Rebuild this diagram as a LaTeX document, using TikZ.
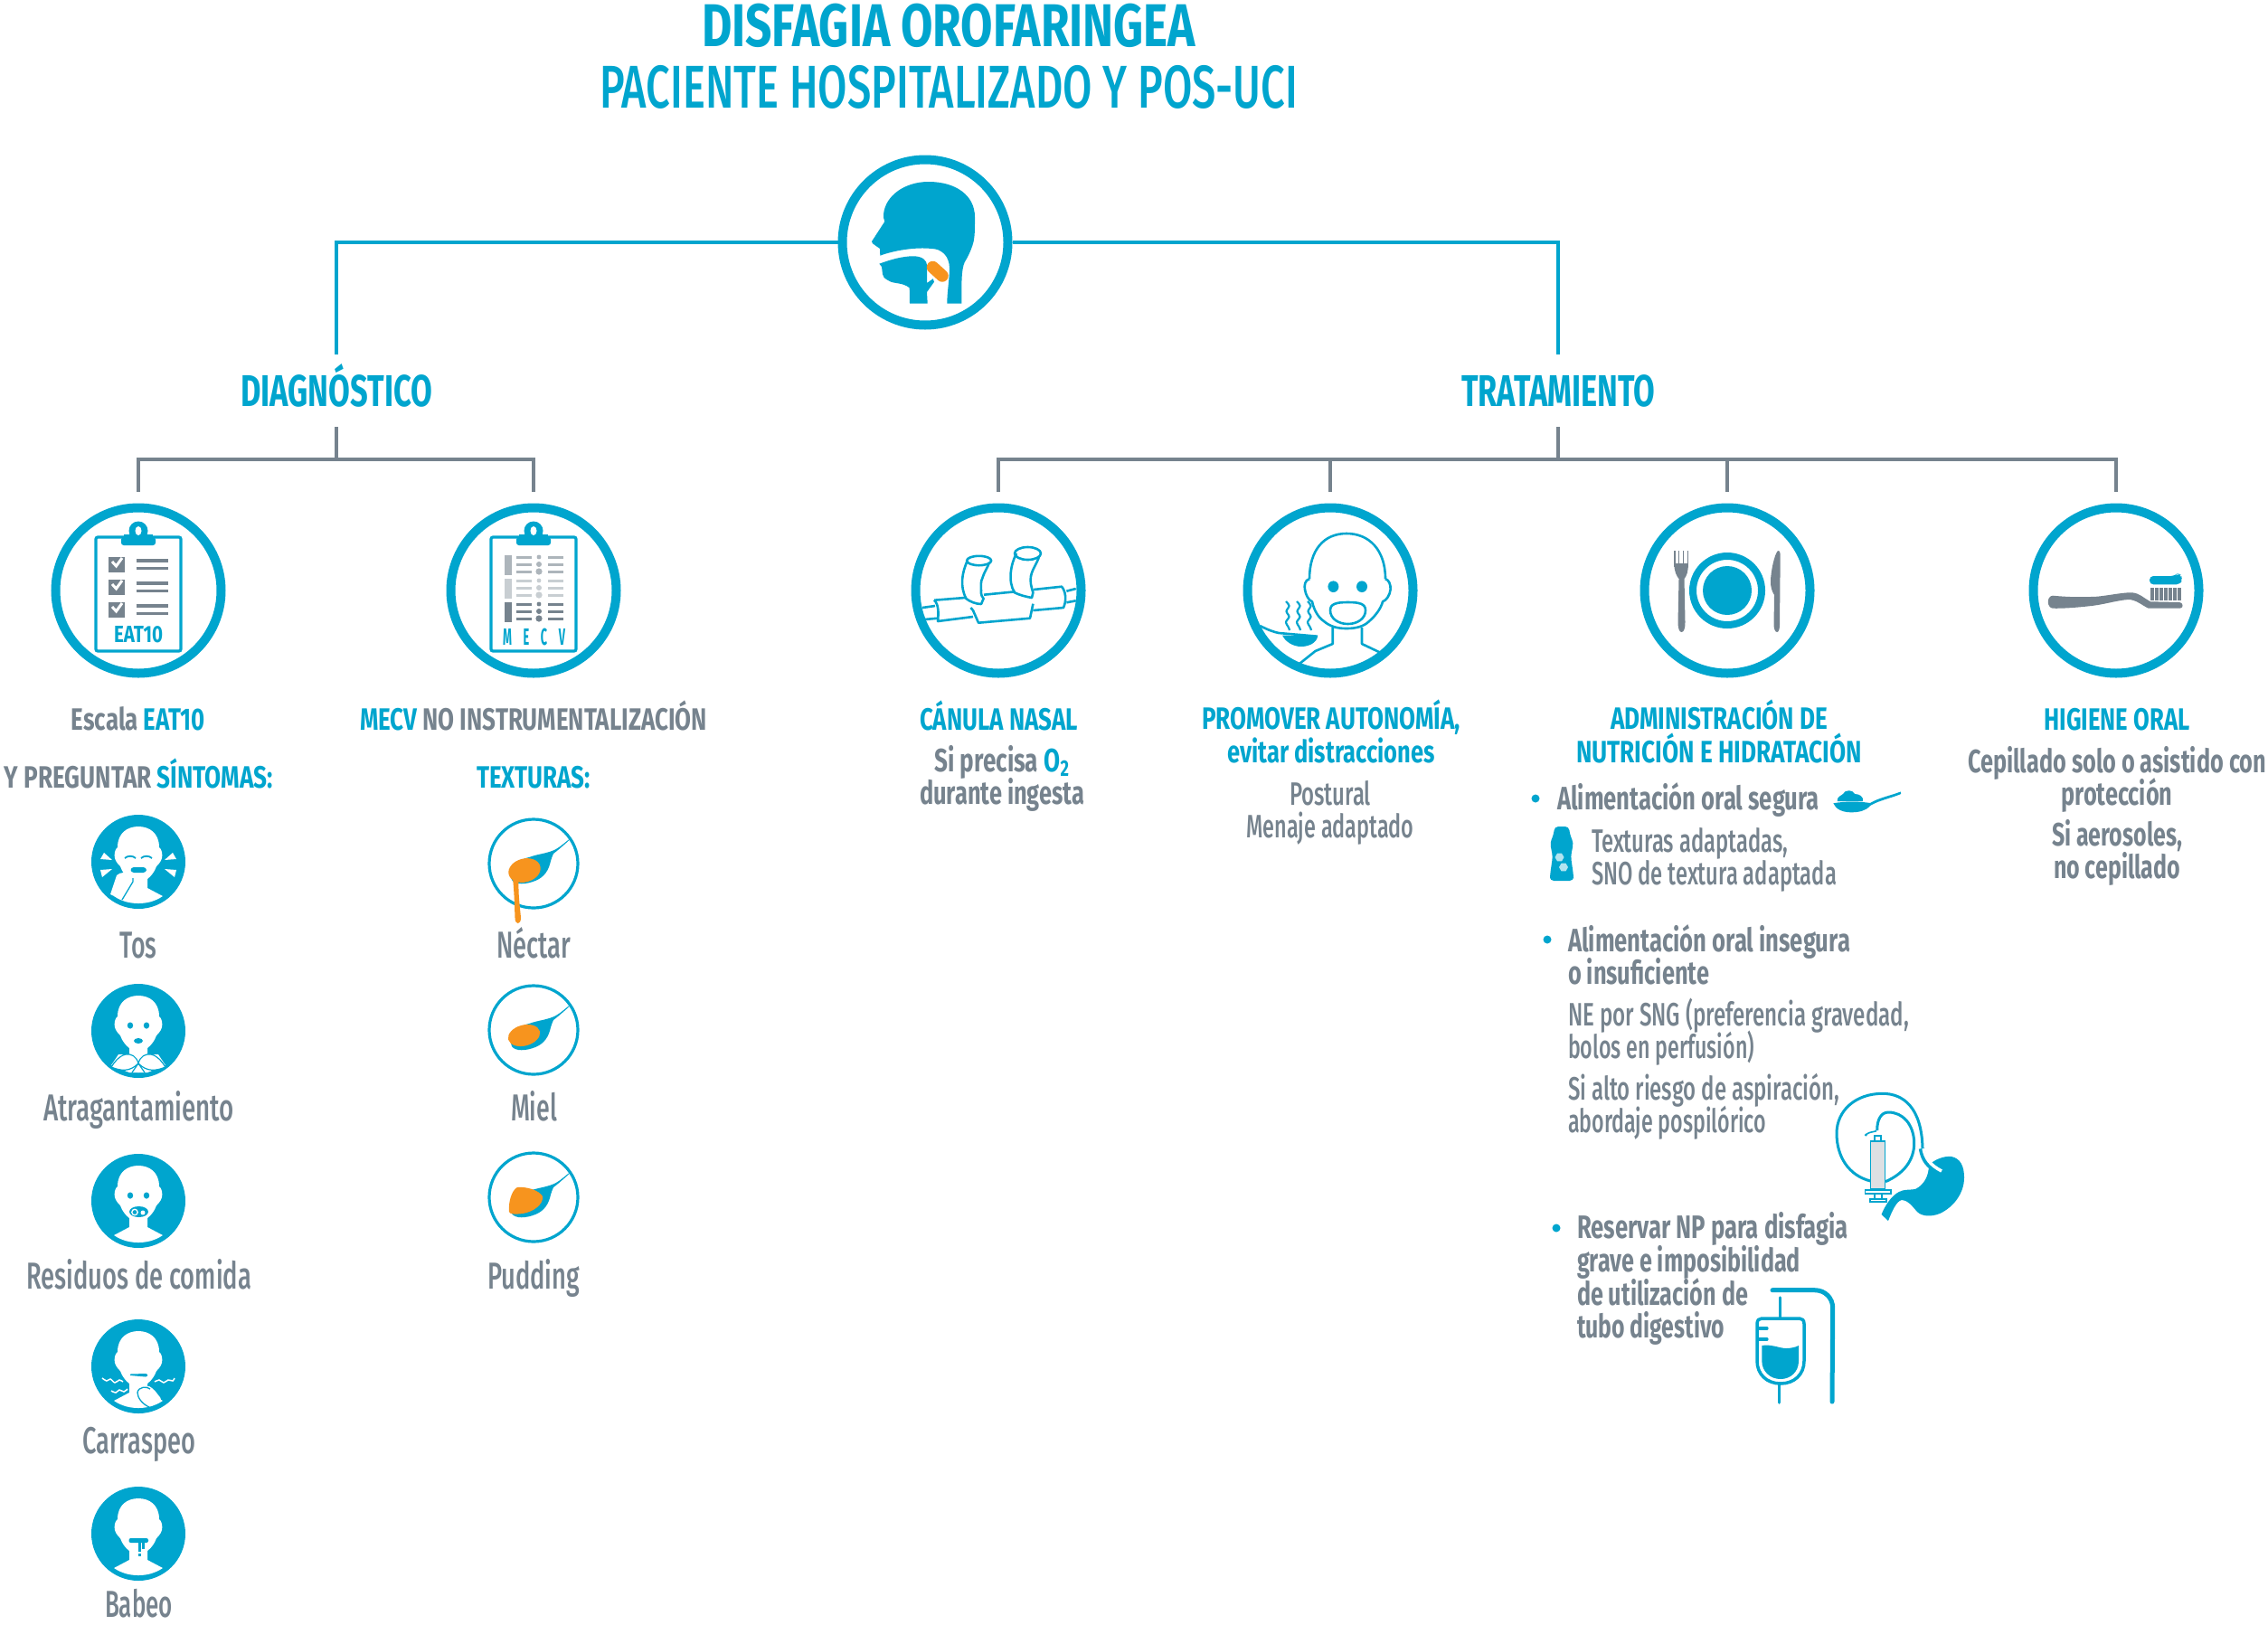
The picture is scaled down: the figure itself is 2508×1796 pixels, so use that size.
\documentclass[tikz,border=0pt]{standalone}
\usepackage{fontspec}
\setmainfont{Fira Sans}
\newfontfamily\medf{Fira Sans Medium}
\definecolor{bl}{HTML}{00A5CE}
\definecolor{gr}{HTML}{76838E}
\definecolor{og}{HTML}{F7941E}
\newsavebox\fwbox
% set a text to a width given in picture pixels
\newcommand\fw[2]{\sbox\fwbox{#2}\pgfmathsetmacro\fwr{#1*0.7113/\the\wd\fwbox}\scalebox{\fwr}[1]{\usebox\fwbox}}
\newcommand\fsz[2]{\fontsize{#1}{#2}\selectfont\lineskiplimit=-100pt\relax}
\newcommand\faceskin{\fill[white] (-23,-16) .. controls (-23,-32) and (-12,-39) .. (0,-39) .. controls (12,-39) and (23,-32) .. (23,-16) .. controls (26,-14) and (27,-8) .. (26,-4) .. controls (25,0) and (22,3) .. (20,5) .. controls (18,11) and (14,16) .. (10,19) -- (10,29) -- (27,38) .. controls (18,44) and (9,46) .. (0,46) .. controls (-9,46) and (-18,44) .. (-27,38) -- (-10,29) -- (-10,19) .. controls (-14,16) and (-18,11) .. (-20,5) .. controls (-22,3) and (-25,0) .. (-26,-4) .. controls (-27,-8) and (-26,-14) .. (-23,-16) -- cycle;}
\newcommand\faceeyes{\fill[bl] (-9,-6) ellipse [x radius=3.2,y radius=3.6]; \fill[bl] (9,-6) ellipse [x radius=3.2,y radius=3.6];}
\newcommand\spoonbowl{\fill[bl] (39.5,-26) .. controls (33,-20) and (26,-14) .. (22,-11) .. controls (20.5,-8) and (20,-6) .. (19,-3) .. controls (17,7) and (12,15) .. (2,19) .. controls (-8,23) and (-20,24) .. (-24,18) .. controls (-28,10) and (-20,-4) .. (-5,-7) .. controls (3,-10) and (12,-11) .. (19,-13.5) .. controls (27,-16) and (33,-22) .. (39.5,-27) -- cycle;}
\newcommand\clipboard{\draw[bl,lw=3.2,rounded corners=1.5] (-47,-59) rectangle (47,67);
  \fill[bl,rounded corners=2] (-19,-59) rectangle (19,-50);
  \fill[bl] (-16,-62) rectangle (16,-55);
  \fill[bl] (0,-66) circle (10.5);
  \fill[white] (0,-66) ellipse [x radius=3.5,y radius=5];}
\newcommand\hexa[2]{\fill[bl!30!white] (#1+5,#2) -- (#1+2.5,#2+4.3) -- (#1-2.5,#2+4.3) -- (#1-5,#2) -- (#1-2.5,#2-4.3) -- (#1+2.5,#2-4.3) -- cycle;}
\tikzset{
  lw/.style={line width=#1*0.25mm},
  bigring/.style={circle,draw=bl,lw=10,minimum size=183*0.25mm,inner sep=0pt,outer sep=17.5*0.25mm},
  disc/.style={circle,fill=bl,minimum size=104*0.25mm,inner sep=0pt},
  thinring/.style={circle,draw=bl,lw=3.2,minimum size=98*0.25mm,inner sep=0pt},
  blueline/.style={draw=bl,lw=3.5},
  greyline/.style={draw=gr,lw=3.5},
  txtbase/.style={inner sep=0pt,outer sep=0pt,anchor=base,text=gr},
  main/.style={txtbase,yshift=-0.4mm,font=\medf\fsz{25.5}{26}},
  bold/.style={txtbase,yshift=-0.4mm,font=\bfseries\fsz{25.5}{26}},
  hd/.style={txtbase,font=\bfseries\fsz{24.3}{26}},
  boldblue/.style={hd,text=bl},
  sympt/.style={main,font=\medf\fsz{29.5}{30}},
  branch/.style={anchor=base,inner sep=0pt,outer sep=0pt,text=bl,font=\bfseries\fsz{35}{36},text height=57*0.25mm,text depth=23*0.25mm},
  ctr/.style={align=center},
  lft/.style={align=left,anchor=base west},
}
\begin{document}
\begin{tikzpicture}[x=0.25mm,y=-0.25mm]
\useasboundingbox (0,0) rectangle (2508,1796);
\fill[white] (0,0) rectangle (2508,1796);
% titles
\node[anchor=base,inner sep=0pt,text=bl,font=\bfseries\fsz{47.5}{48}] (t1) at (1049,51) {\fw{546}{DISFAGIA OROFARINGEA}};
\node[anchor=base,inner sep=0pt,text=bl,font=\medf\fsz{47.5}{48}] (t2) at (1049,119) {\fw{772}{PACIENTE HOSPITALIZADO Y POS-UCI}};
% main nodes
\node[circle,draw=bl,lw=10,minimum size=183*0.25mm,inner sep=0pt] (head) at (1023,268) {};
\node[branch] (diag) at (372,449) {\fw{212}{DIAGNÓSTICO}};
\node[branch] (trat) at (1723,449) {\fw{214}{TRATAMIENTO}};
\node[bigring] (eat) at (153,653) {};
\node[bigring] (mecv) at (590,653) {};
\node[bigring] (can) at (1104,653) {};
\node[bigring] (prom) at (1471,653) {};
\node[bigring] (adm) at (1910,653) {};
\node[bigring] (hig) at (2340,653) {};
\coordinate (dj) at (372,508);
\coordinate (tj) at (1723,508);
% connectors
\draw[blueline] (head.west) -| (diag.north);
\draw[blueline] (head.east) -| (trat.north);
\draw[greyline] (diag.south) -- (dj);
\draw[greyline] (eat.north) |- (dj) -| (mecv.north);
\draw[greyline] (trat.south) -- (tj);
\draw[greyline] (can.north) |- (tj) -| (hig.north);
\draw[greyline] (prom.north) -- (prom.north |- tj);
\draw[greyline] (adm.north) -- (adm.north |- tj);
% head icon
\begin{scope}[shift={(head.center)}]
\fill[bl] (-59,-1) -- (-44.7,-23) .. controls (-46,-26) and (-46,-28) .. (-46,-31) .. controls (-44,-52) and (-22,-67) .. (3.7,-67) .. controls (34,-67) and (55,-52) .. (55,-28) .. controls (55,-15) and (55,-8) .. (53.7,-1.3) .. controls (52,6) and (48,15) .. (43.7,22) .. controls (40,30) and (40.3,45) .. (40.3,67.7) -- (24.3,67.7) .. controls (24.3,55) and (27,40) .. (27,29) .. controls (27,15) and (18,7) .. (7,7) .. controls (-10,5) and (-35,9) .. (-49.7,14.7) -- (-50,7) -- (-58,1.3) -- cycle;
\fill[bl] (-50.7,23.7) .. controls (-38,19) and (-25,15.3) .. (-13,15.3) .. controls (-3,15.3) and (2,20) .. (2,25.3) -- (2,45) -- (8.7,40.3) -- (10,43.7) -- (2,55) -- (2.7,67.7) -- (-17,67.7) -- (-17.3,50.3) .. controls (-25,44) and (-35,46) .. (-39.7,42.7) .. controls (-45,40) and (-47,38) .. (-47,35.3) -- (-48,27) -- cycle;
\draw[og,lw=13.5,line cap=round] (8.5,27.5) -- (19,37);
\end{scope}
% clipboard EAT10
\begin{scope}[shift={(eat.center)}]
\clipboard
\foreach \cy in {-37,-12,13} {
  \fill[gr] (-33,\cy) rectangle (-15,\cy+16.5);
  \draw[white,lw=3] (-29,\cy+5) -- (-24.5,\cy+10) -- (-18,\cy+1);
  \draw[gr,lw=3.2] (-2.5,\cy+4) -- (33,\cy+4);
  \draw[gr,lw=3.2] (-2.5,\cy+12.5) -- (33,\cy+12.5);
}
\node[anchor=base,inner sep=0pt,text=bl,font=\bfseries\fsz{18.5}{19}] (eatlab) at (0,57) {\fw{54}{EAT10}};
\end{scope}
% clipboard MECV
\begin{scope}[shift={(mecv.center)}]
\clipboard
\foreach \ry/\rc in {-39/{gr!60!white},-13/{gr!40!white},13/gr} {
  \fill[\rc] (-32,\ry) rectangle (-23.6,\ry+21.5);
  \foreach \dl in {2,10,18} {
    \draw[\rc,lw=3] (-19.4,\ry+\dl) -- (-2,\ry+\dl);
    \draw[\rc,lw=3] (16,\ry+\dl) -- (33,\ry+\dl);
  }
  \fill[\rc] (6,\ry+2) circle (2.4);
  \fill[\rc] (6,\ry+10) circle (3);
  \fill[\rc] (6,\ry+18) circle (3.6);
}
\node[anchor=base,inner sep=0pt,text=bl,font=\bfseries\fsz{18.5}{19}] (mecvlab) at (0.5,60) {\fw{69}{M\hspace{1em}E\hspace{1em}C\hspace{1em}V}};
\end{scope}
% canula
\begin{scope}[shift={(can.center)},bl,lw=2.6,line join=round]
\draw (-71,10.7) -- (-37,8); \draw (-16,4.7) -- (18.4,1.3); \draw (39,-1) -- (70,-4.3) .. controls (74,0) and (76,10) .. (72,19) -- (38.4,22);
\draw (38.4,14.7) -- (35,30.7) -- (-22,35.7) -- (-28,22) -- (-30.6,19);
\draw (-28,29) -- (-67,34) .. controls (-66,25) and (-66,15) .. (-71,10.7);
\draw (-84,19) -- (-70,17); \draw (-81.5,32) -- (-67,30.7);
\draw (75.4,0.7) -- (85.7,-2); \draw (75.4,13.3) -- (85.7,11.3);
\draw (-21.4,-33) ellipse [x radius=13.5,y radius=5.2];
\draw (-34.4,-32.7) .. controls (-40,-20) and (-43,-5) .. (-35.6,9) .. controls (-32,12) and (-25,15) .. (-19,15) -- (-16.4,9) .. controls (-20,5) and (-19,0) .. (-19,0.7) .. controls (-19.5,-6) and (-19,-12) .. (-18,-12.7) .. controls (-16,-20) and (-12,-25) .. (-10,-31);
\draw (32.5,-41) ellipse [x radius=14.5,y radius=7];
\draw (20,-41) .. controls (14,-30) and (10,-10) .. (18,2.3) .. controls (23,5) and (31,7) .. (37,8) -- (38.4,2.3) .. controls (36,-5) and (35,-10) .. (36,-16) .. controls (38,-25) and (43,-30) .. (45,-37.7);
\end{scope}
% promover
\begin{scope}[shift={(prom.center)},bl,lw=2.6,line join=round]
\draw (-23,-12.7) .. controls (-23,-45) and (-7,-63) .. (18,-63) .. controls (43,-63) and (61,-45) .. (61,-12.7);
\draw (-23,-12.7) .. controls (-28,-12) and (-29,-5) .. (-28,-1) .. controls (-27,5) and (-24,11) .. (-20,12.3) .. controls (-18,22) and (-13,30) .. (-7,34) .. controls (0,40) and (8,42) .. (18,42) .. controls (28,42) and (37,40) .. (43,34) .. controls (50,28) and (56,20) .. (58,12.3) .. controls (62,11) and (66,5) .. (66.6,-1) .. controls (67,-6) and (65,-12) .. (61,-12.7);
\draw (2.7,41) -- (2.7,59) -- (-16.5,67) -- (-33.7,80.7);
\draw (35,41) -- (35,59) -- (56,69);
\fill (3.4,-4.3) ellipse [x radius=6,y radius=6.3];
\fill (35,-4.3) ellipse [x radius=6,y radius=6.3];
\draw (0,22) .. controls (0,15) and (6,13) .. (19.5,13) .. controls (33,13) and (39,15) .. (39,22) .. controls (39,31) and (30,37) .. (19.5,37) .. controls (9,37) and (0,31) .. (0,22) -- cycle;
\draw (-77.7,39) .. controls (-68,44) and (-62,46) .. (-57,47) -- (-14,50.7);
\fill (-53,49.5) -- (-14,50.7) .. controls (-15,58) and (-24,62) .. (-32,62) .. controls (-42,62) and (-50,56) .. (-53,49.5) -- cycle;
\foreach \sx in {-47,-35,-23} {
  \draw[lw=2.2] plot[smooth] coordinates {(\sx-2,12) (\sx+1.5,17) (\sx-1.5,23) (\sx+1.5,29) (\sx-2,35) (\sx+1,41) (\sx+2,44)};
}
\end{scope}
% adm
\begin{scope}[shift={(adm.center)}]
\draw[bl,lw=8] (0,0) circle (38);
\fill[bl] (0,0) circle (27);
\foreach \tx in {-58.7,-54.2,-49.2,-44.5} {\fill[gr] (\tx,-44) rectangle (\tx+1.4,-26);}
\fill[gr] (-58.7,-30) -- (-43.1,-30) .. controls (-43,-21) and (-45,-16) .. (-47.5,-13) -- (-46.5,35) .. controls (-46.5,42) and (-48,46) .. (-50.5,46) .. controls (-53,46) and (-54.5,42) .. (-54.5,35) -- (-53.5,-13) .. controls (-56,-16) and (-58.7,-21) .. (-58.7,-30) -- cycle;
\fill[gr] (56,-44) .. controls (52,-40) and (48,-20) .. (48,-10) .. controls (48,-4) and (49,0) .. (52,5) -- (51.5,38) .. controls (51.5,42) and (53,46) .. (55,46) .. controls (57,46) and (58,42) .. (58,38) -- (58.7,-40) .. controls (58.7,-43) and (57.5,-44.5) .. (56,-44) -- cycle;
\end{scope}
% toothbrush
\begin{scope}[shift={(hig.center)}]
\fill[gr] (-70,5.7) .. controls (-50,7.5) and (-38,7.5) .. (-20.8,6.7) .. controls (-5,5) and (8,2) .. (17.6,2.3) .. controls (26,3) and (30,8) .. (38,12.3) -- (70,13) .. controls (74,13) and (75,19.5) .. (71,19.5) -- (35.7,19.7) .. controls (28,16) and (22,10) .. (13.5,10) .. controls (0,11) and (-15,16) .. (-30,17.3) .. controls (-45,19) and (-60,20) .. (-70,19.7) .. controls (-77,19) and (-77,6) .. (-70,5.7) -- cycle;
\foreach \bx in {0,...,6} {\fill[gr] (38+\bx*5,-3.3) rectangle (41.5+\bx*5,10.7);}
\fill[bl,rounded corners=3] (37,-16) -- (65,-16) -- (68,-19) -- (72,-17) -- (73,-12) -- (71,-6.7) -- (37,-6.7) -- cycle;
\end{scope}
% text under big circles
\node[hd] (leat) at (153,807) {\fw{148}{Escala \textcolor{bl}{EAT10}}};
\node[hd] (lmecv) at (590,807) {\fw{384}{\textcolor{bl}{MECV} NO INSTRUMENTALIZACIÓN}};
\node[hd] (lsint) at (153.5,871) {\fw{297}{Y PREGUNTAR \textcolor{bl}{SÍNTOMAS:}}};
\node[boldblue] (ltex) at (590,871) {\fw{126}{TEXTURAS:}};
% symptom discs
\node[disc] (s1) at (153,953) {};
\node[disc] (s2) at (153,1140) {};
\node[disc] (s3) at (153,1328) {};
\node[disc] (s4) at (153,1511) {};
\node[disc] (s5) at (153,1696) {};
\begin{scope}[shift={(s1.center)}]
\faceskin
\foreach \sgn in {-1,1} {
  \draw[bl,lw=1.8] (\sgn*15,-4) .. controls (\sgn*12,-7) and (\sgn*6,-7) .. (\sgn*3,-4);
  \fill[white] (\sgn*42,-3) -- (\sgn*29,-2) -- (\sgn*38,-10) -- cycle;
  \fill[white] (\sgn*42,9) -- (\sgn*29,8) -- (\sgn*40,17) -- cycle;
}
\fill[bl,rounded corners=2.5] (-8.5,6) rectangle (9,12);
\fill[white] (-24,15) .. controls (-20,11) and (-12,11) .. (-9,14) .. controls (-6,17) and (-5,19) .. (-6,22) -- (-18,42) -- (-31,36) -- cycle;
\draw[bl,lw=1.3] (-6,18) -- (-6,22) -- (-18,42);
\end{scope}
\begin{scope}[shift={(s2.center)}]
\faceskin\faceeyes
\fill[bl] (0,11) ellipse [x radius=5,y radius=3];
\fill[white] (-22,26) -- (22,26) -- (30,38) -- (10,46) -- (-10,46) -- (-30,38) -- cycle;
\draw[bl,lw=1.2,fill=white] (0,36) .. controls (-2,28) and (-8,25) .. (-14,26) .. controls (-22,28) and (-26,34) .. (-30,40) .. controls (-20,44) and (-10,46) .. (0,36) .. controls (10,46) and (20,44) .. (30,40) .. controls (26,34) and (22,28) .. (14,26) .. controls (8,25) and (2,28) .. (0,36);
\draw[bl,lw=1.2] (0,36) -- (-7,46); \draw[bl,lw=1.2] (0,36) -- (7,46);
\end{scope}
\begin{scope}[shift={(s3.center)}]
\faceskin\faceeyes
\fill[bl] (0.5,12) ellipse [x radius=10.5,y radius=6];
\draw[white,lw=1.3] (-4,12.5) circle (3.2);
\fill[white] (5,13) circle (2.5);
\end{scope}
\begin{scope}[shift={(s4.center)}]
\faceskin
\fill[bl] (-9,8.5) -- (8,8) .. controls (11,8.5) and (11,11) .. (8,11.5) -- (-9,10) -- cycle;
\draw[white,lw=1.5] plot[smooth] coordinates {(-40,13) (-35,16) (-31,14) (-26,18) (-21,15) (-17,17)};
\draw[white,lw=1.5] plot[smooth] coordinates {(-30,27) (-25,29) (-21,26) (-16,28) (-12,25)};
\draw[white,lw=1.5] plot[smooth] coordinates {(18,17) (23,15) (28,18) (33,15) (38,16) (40,13)};
\fill[white,rounded corners=3] (-1,29) .. controls (0,22) and (12,22) .. (16,24) -- (27,38) -- (12,45) .. controls (5,42) and (-1,35) .. (-1,29) -- cycle;
\draw[bl,lw=1.3] (12,45) .. controls (5,42) and (-1,35) .. (-1,29) .. controls (0,22) and (10,22) .. (13,25);
\end{scope}
\begin{scope}[shift={(s5.center)}]
\faceskin
\fill[bl,rounded corners=1.5] (-10.5,5) rectangle (11,10);
\fill[bl] (-0.5,9) rectangle (2.8,20);
\fill[bl] (-0.5,22) rectangle (2.8,25);
\fill[bl] (3.8,9) rectangle (7.2,17);
\end{scope}
% symptom labels
\node[sympt] (ls1) at (153,1058) {\fw{41}{Tos}};
\node[sympt] (ls2) at (153.5,1238) {\fw{211}{Atragantamiento}};
\node[sympt] (ls3) at (153.5,1424) {\fw{249}{Residuos de comida}};
\node[sympt] (ls4) at (153.5,1606) {\fw{125}{Carraspeo}};
\node[sympt] (ls5) at (153.5,1787) {\fw{75}{Babeo}};
% texture circles
\node[thinring] (x1) at (590,955) {};
\node[thinring] (x2) at (590,1139) {};
\node[thinring] (x3) at (590,1324) {};
\begin{scope}[shift={(x1.center)}]
\spoonbowl
\fill[og] (-10,7.5) ellipse [x radius=18,y radius=13,rotate=15];
\fill[og] (-23,16) .. controls (-21,35) and (-21,50) .. (-20.5,60) .. controls (-20.5,68) and (-14,68) .. (-14,60) .. controls (-15,48) and (-17,35) .. (-16.5,19) -- cycle;
\end{scope}
\begin{scope}[shift={(x2.center)}]
\spoonbowl
\fill[og] (-10.5,6) ellipse [x radius=18,y radius=11.5,rotate=15];
\end{scope}
\begin{scope}[shift={(x3.center)}]
\spoonbowl
\fill[og] (-27,16) .. controls (-28,5) and (-24,-8) .. (-18,-11) .. controls (-8,-12) and (6,-8) .. (10,-1) .. controls (11,8) and (0,16) .. (-12,18) .. controls (-20,19) and (-26,19) .. (-27,16) -- cycle;
\end{scope}
\node[sympt] (lx1) at (590,1058) {\fw{82}{Néctar}};
\node[sympt] (lx2) at (590.5,1238) {\fw{51}{Miel}};
\node[sympt] (lx3) at (590,1424) {\fw{102}{Pudding}};
% treatment headings and text
\node[boldblue] (lcan) at (1104.5,807) {\fw{175}{CÁNULA NASAL}};
\node[bold,ctr] (lcan2) at (1108,888) {\fw{149}{Si precisa \textcolor{bl}{O\textsubscript{2}}}\\\fw{182}{durante ingesta}};
\node[boldblue,ctr] (lprom) at (1472,843) {\fw{286}{PROMOVER AUTONOMÍA,}\\\fw{229}{evitar distracciones}};
\node[main,ctr] (lprom2) at (1471,925) {\fw{90}{Postural}\\\fw{185}{Menaje adaptado}};
\node[boldblue,ctr] (ladm) at (1901,843) {\fw{240}{ADMINISTRACIÓN DE}\\\fw{316}{NUTRICIÓN E HIDRATACIÓN}};
\node[boldblue] (lhig) at (2341,807) {\fw{161}{HIGIENE ORAL}};
\node[bold,ctr] (lhig2) at (2341,889) {\fw{330}{Cepillado solo o asistido con}\\\fw{123}{protección}};
\node[bold,ctr] (lhig3) at (2341,970) {\fw{144}{Si aerosoles,}\\\fw{140}{no cepillado}};
% nutrition list
\fill[bl] (1698,883) circle (4.5);
\node[bold,lft] (a1) at (1722,894) {\fw{290}{Alimentación oral segura}};
\fill[bl] (2027.3,888.3) .. controls (2040,886) and (2055,886) .. (2068,888) .. controls (2078,882) and (2090,880) .. (2101.7,875.5) -- (2102.2,878) .. controls (2090,883) and (2078,885) .. (2068,891) .. controls (2063,897) and (2055,898.3) .. (2046.7,898.3) .. controls (2038,898.3) and (2030,895) .. (2027.3,888.3) -- cycle;
\fill[bl] (2031.7,886) .. controls (2031,881) and (2036,880) .. (2038,878) .. controls (2040,873) and (2049,873) .. (2051,878) .. controls (2056,878) and (2061,881) .. (2060,886) -- cycle;
\fill[bl,rounded corners=3] (1719,914) -- (1735,914) -- (1736,923) -- (1740,932) -- (1737,947) -- (1740,968) -- (1740,974) -- (1714,974) -- (1714,968) -- (1717,947) -- (1714,932) -- (1718,923) -- cycle;
\hexa{1724.5}{948}
\hexa{1729}{959}
\node[main,lft] (a2) at (1760,977) {\fw{217}{Texturas adaptadas,}\\\fw{271}{SNO de textura adaptada}};
\fill[bl] (1711,1039) circle (4.5);
\node[bold,lft] (b1) at (1734,1087) {\fw{312}{Alimentación oral insegura}\\\fw{156}{o insuficiente}};
\node[main,lft] (b2) at (1734,1169) {\fw{377}{NE por SNG (preferencia gravedad,}\\\fw{206}{bolos en perfusión)}};
\node[main,lft] (b3) at (1734,1251) {\fw{300}{Si alto riesgo de aspiración,}\\\fw{219}{abordaje pospilórico}};
\fill[bl] (1721,1358) circle (4.5);
\node[bold,lft] (c1) at (1744,1478) {\fw{300}{Reservar NP para disfagia}\\\fw{247}{grave e imposibilidad}\\\fw{189}{de utilización de}\\\fw{163}{tubo digestivo}};
% syringe and stomach
\draw[bl,lw=3] (2068.3,1306) .. controls (2045,1300) and (2031,1280) .. (2031,1253.3) .. controls (2031,1228) and (2052,1209.3) .. (2081.7,1209.3) .. controls (2105,1209.3) and (2125,1225) .. (2126,1270);
\draw[bl,lw=3] (2085,1306.7) .. controls (2105,1298) and (2117,1283) .. (2116.7,1263.3) .. controls (2116,1243) and (2104,1230) .. (2088.3,1230) .. controls (2080,1230) and (2075.7,1238) .. (2075.7,1250);
\draw[bl,lw=1.6] (2063.3,1255) .. controls (2066,1252) and (2070,1252) .. (2075,1250.7);
\fill[bl] (2063.3,1255) circle (1.6);
\draw[bl,lw=1.6,fill=gr!25!white] (2068.3,1261.7) rectangle (2084.3,1315);
\draw[bl,lw=1.6,fill=white] (2072.7,1256) rectangle (2080,1261.7);
\draw[bl,lw=1.6,fill=white] (2062.3,1316) rectangle (2091,1320);
\draw[bl,lw=1.6] (2073,1320) -- (2073,1326); \draw[bl,lw=1.6] (2080.7,1320) -- (2080.7,1326);
\draw[bl,lw=1.6,fill=white] (2067.7,1326) rectangle (2085.7,1329);
\fill[bl] (2133,1288) .. controls (2140,1282) and (2150,1278) .. (2158,1279) .. controls (2168,1281) and (2172,1290) .. (2172,1302) .. controls (2172,1320) and (2160,1335) .. (2145,1342) .. controls (2135,1346) and (2125,1345) .. (2120,1340) .. controls (2115,1335) and (2112,1328) .. (2103,1327) .. controls (2097,1328) and (2092,1340) .. (2088,1350) -- (2080.5,1343) .. controls (2085,1332) and (2092,1322) .. (2100,1318) .. controls (2105,1315) and (2112,1316) .. (2118,1315) .. controls (2128,1310) and (2133,1300) .. (2133,1288) -- cycle;
\draw[bl,lw=6.5] (2125,1270) .. controls (2127,1282) and (2132,1290) .. (2146,1296);
\draw[white,lw=3.5] (2127,1270) .. controls (2129,1281) and (2134,1288) .. (2147,1295);
% IV bag
\draw[bl,lw=5,line cap=round] (1960,1426.7) -- (2006.7,1426.7) .. controls (2018,1426.7) and (2026.7,1435) .. (2026.7,1446.7) -- (2026,1550);
\draw[bl,lw=3.5,line cap=round] (1968.3,1435) -- (1968.3,1457.7);
\draw[bl,lw=3.5,line cap=round] (1967.7,1531) -- (1967.7,1551);
\draw[bl,lw=3.5] (1943,1464) .. controls (1943,1460) and (1945,1458) .. (1948,1458) -- (1990,1458) .. controls (1993,1458) and (1995,1460) .. (1995,1464) -- (1995,1505) .. controls (1995,1520) and (1984,1530) .. (1969,1530) .. controls (1954,1530) and (1943,1520) .. (1943,1505) -- cycle;
\draw[bl,lw=3.2,line cap=round] (1944,1469) -- (1954,1469);
\draw[bl,lw=3.2,line cap=round] (1944,1481) -- (1954,1481);
\fill[bl] (1948.3,1488) .. controls (1958,1486) and (1968,1491) .. (1975,1491) .. controls (1980,1491) and (1985,1490) .. (1989,1488) -- (1989,1505) .. controls (1989,1517) and (1980,1525) .. (1969,1525) .. controls (1958,1525) and (1948.3,1517) .. (1948.3,1505) -- cycle;
\end{tikzpicture}
\end{document}
